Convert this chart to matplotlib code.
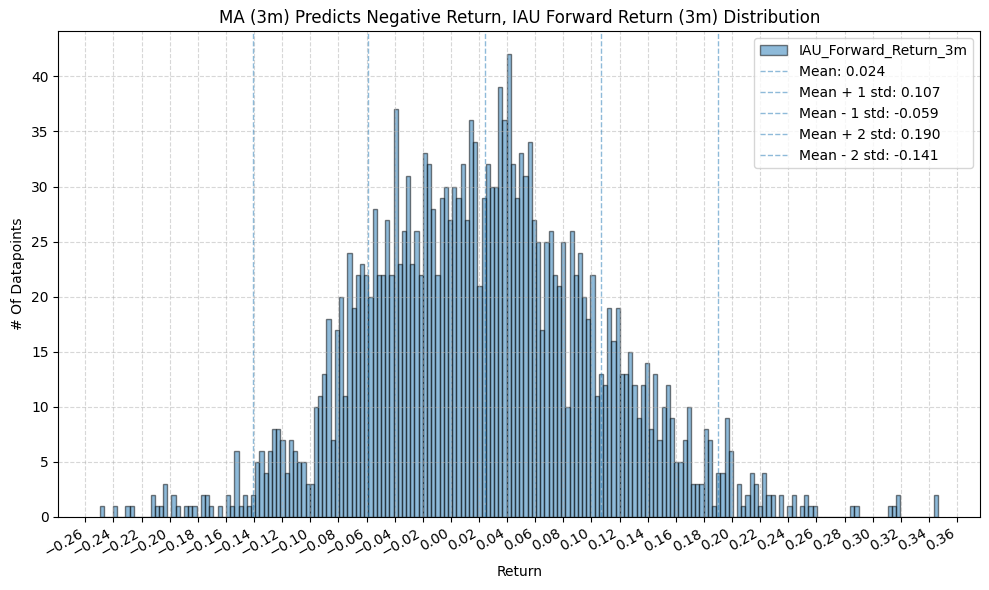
import numpy as np
import matplotlib
matplotlib.use("Agg")
import matplotlib.pyplot as plt
from matplotlib.ticker import MultipleLocator

# histogram: 200 equal bins between the min and max return
RETURN_MIN = -0.2494
RETURN_MAX = 0.3466
BIN_COUNTS = [
    1, 0, 0, 1, 0, 0, 1, 1, 0, 0,
    0, 0, 2, 1, 1, 3, 0, 2, 1, 0,
    1, 1, 1, 0, 2, 2, 1, 0, 1, 0,
    2, 1, 6, 1, 2, 1, 2, 5, 6, 4,
    6, 8, 8, 7, 4, 7, 6, 5, 5, 3,
    3, 10, 11, 13, 18, 7, 17, 20, 11, 24,
    19, 22, 23, 22, 20, 28, 22, 22, 27, 22,
    37, 23, 26, 31, 23, 26, 22, 33, 32, 28,
    22, 29, 30, 27, 30, 29, 32, 27, 36, 34,
    21, 29, 32, 30, 30, 39, 36, 42, 32, 29,
    33, 31, 34, 27, 25, 17, 25, 26, 22, 21,
    25, 10, 26, 22, 24, 20, 18, 22, 11, 13,
    12, 19, 16, 19, 13, 13, 15, 12, 9, 12,
    14, 8, 13, 7, 10, 12, 9, 5, 5, 7,
    10, 3, 3, 3, 8, 7, 1, 4, 4, 9,
    6, 0, 3, 1, 2, 4, 3, 1, 4, 2,
    2, 0, 2, 0, 1, 2, 0, 1, 2, 1,
    1, 0, 0, 0, 0, 0, 0, 0, 0, 1,
    1, 0, 0, 0, 0, 0, 0, 0, 1, 1,
    2, 0, 0, 0, 0, 0, 0, 0, 0, 2,
]

STAT_VALUES = [0.024, 0.107, -0.059, 0.190, -0.141]
STAT_LABELS = [
    "Mean: 0.024",
    "Mean + 1 std: 0.107",
    "Mean - 1 std: -0.059",
    "Mean + 2 std: 0.190",
    "Mean - 2 std: -0.141",
]

SERIES_NAME = "IAU_Forward_Return_3m"
TITLE = "MA (3m) Predicts Negative Return, IAU Forward Return (3m) Distribution"

edges = np.linspace(RETURN_MIN, RETURN_MAX, len(BIN_COUNTS) + 1)
counts = np.asarray(BIN_COUNTS, dtype=float)

fig, ax = plt.subplots(figsize=(9.89, 5.9), dpi=100)
fig.subplots_adjust(left=0.059, right=0.991, top=0.947, bottom=0.124)
ax.hist(edges[:-1], bins=edges, weights=counts, color="C0", alpha=0.5,
        edgecolor="black", label=SERIES_NAME)

for value, label in zip(STAT_VALUES, STAT_LABELS):
    ax.axvline(value, color="C0", alpha=0.5, linestyle="--", linewidth=1, label=label)

ax.set_title(TITLE)
ax.set_xlabel("Return")
ax.set_ylabel("# Of Datapoints")
ax.xaxis.set_major_locator(MultipleLocator(0.02))
ax.grid(True, linestyle="--", alpha=0.5)
plt.setp(ax.get_xticklabels(), rotation=30, ha="right")
ax.legend(loc="upper right")

fig.savefig("out.png", dpi=100)
